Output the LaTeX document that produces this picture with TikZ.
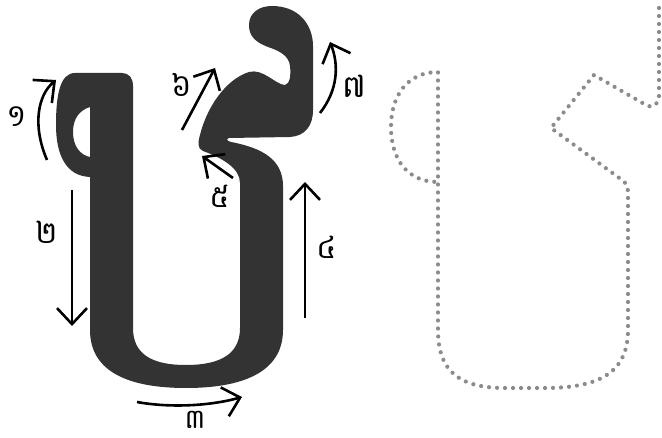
\documentclass[tikz,border=0pt]{standalone}
\usepackage{fontspec}
\newfontfamily\khmerfont[Script=Khmer]{Battambang}
\usetikzlibrary{arrows.meta}
\definecolor{inkgray}{HTML}{333333}
\definecolor{dotgray}{HTML}{8C8C8C}

\begin{document}
\begin{tikzpicture}[x=1pt, y=-1pt,
  glyph/.style={fill=inkgray, draw=none, even odd rule},
  trace/.style={draw=dotgray, line width=4.2pt, line cap=round, dash pattern=on 0pt off 8pt},
  stroke/.style={-{Straight Barb[length=16pt, width=30pt]}, line width=2.6pt, draw=black},
  digit/.style={font=\khmerfont\fontsize{31}{32}\selectfont, inner sep=0pt}]
  \useasboundingbox (0,0) rectangle (662,438);
  % the letter
  \path[glyph] (75,73) -- (122,73) .. controls (129,73) and (133,78) .. (133,86)
    -- (133,328) .. controls (133,353) and (150,365) .. (186,365)
    .. controls (222,365) and (240,353) .. (240,328) -- (240,183)
    .. controls (240,168) and (222,158) .. (203,151)
    .. controls (197,149) and (198,141) .. (200,135)
    .. controls (206,110) and (224,80) .. (249,72)
    .. controls (263,68) and (276,85) .. (285,85)
    .. controls (290,84) and (291,75) .. (290,66)
    .. controls (289,56) and (280,51) .. (268,47)
    .. controls (255,42) and (249,36) .. (249,25)
    .. controls (249,13) and (259,6) .. (272,6)
    .. controls (299,6) and (313,25) .. (313,46) -- (313,110)
    .. controls (313,126) and (305,136) .. (290,137) -- (229,138)
    .. controls (226,139) and (227,141) .. (231,142)
    .. controls (263,148) and (283,160) .. (283,186) -- (283,330)
    .. controls (283,368) and (250,388) .. (186,388)
    .. controls (122,388) and (90,368) .. (90,330) -- (90,177)
    .. controls (66,176) and (56,155) .. (56,125)
    .. controls (56,95) and (60,73) .. (75,73) -- cycle
    (90,107) .. controls (80,110) and (73,118) .. (73,132)
    .. controls (73,146) and (80,155) .. (90,157) -- cycle;
  % dotted copy
  \draw[trace] (659,8) -- (659,96) .. controls (659,104) and (653,109) .. (646,105)
    -- (594,75) -- (551,128) -- (622,180) .. controls (626,183) and (628,186) .. (628,192)
    -- (628,330) .. controls (628,372) and (600,388) .. (545,388) -- (505,388)
    .. controls (460,388) and (438,372) .. (438,330) -- (438,72)
    .. controls (408,72) and (391,95) .. (391,127)
    .. controls (391,160) and (408,182) .. (438,182);
  % stroke arrows
  \coordinate (s1a) at (47,160);  \coordinate (s1b) at (56,80);
  \coordinate (s2a) at (72,190);  \coordinate (s2b) at (72,326);
  \coordinate (s3a) at (137,402); \coordinate (s3b) at (242,397);
  \coordinate (s4a) at (305,318); \coordinate (s4b) at (305,182);
  \coordinate (s5a) at (233,178); \coordinate (s5b) at (202,156);
  \coordinate (s6a) at (182,130); \coordinate (s6b) at (215,68);
  \coordinate (s7a) at (320,113); \coordinate (s7b) at (330,42);
  \draw[stroke] (s1a) .. controls (32,125) and (38,95) .. (s1b);
  \draw[stroke] (s2a) -- (s2b);
  \draw[stroke] (s3a) .. controls (170,408) and (210,406) .. (s3b);
  \draw[stroke] (s4a) -- (s4b);
  \draw[stroke] (s5a) -- (s5b);
  \draw[stroke] (s6a) -- (s6b);
  \draw[stroke] (s7a) .. controls (338,90) and (339,65) .. (s7b);
  % numbers
  \node[digit] (n1) at (17,117) {១};
  \node[digit] (n2) at (47,232) {២};
  \node[digit, font=\khmerfont\fontsize{27}{28}\selectfont, anchor=base, text depth=0pt] (n3) at (195,429) {៣};
  \node[digit] (n4) at (327,247) {៤};
  \node[digit] (n5) at (220,196) {៥};
  \node[digit] (n6) at (182,85) {៦};
  \node[digit] (n7) at (354,86) {៧};
\end{tikzpicture}
\end{document}
